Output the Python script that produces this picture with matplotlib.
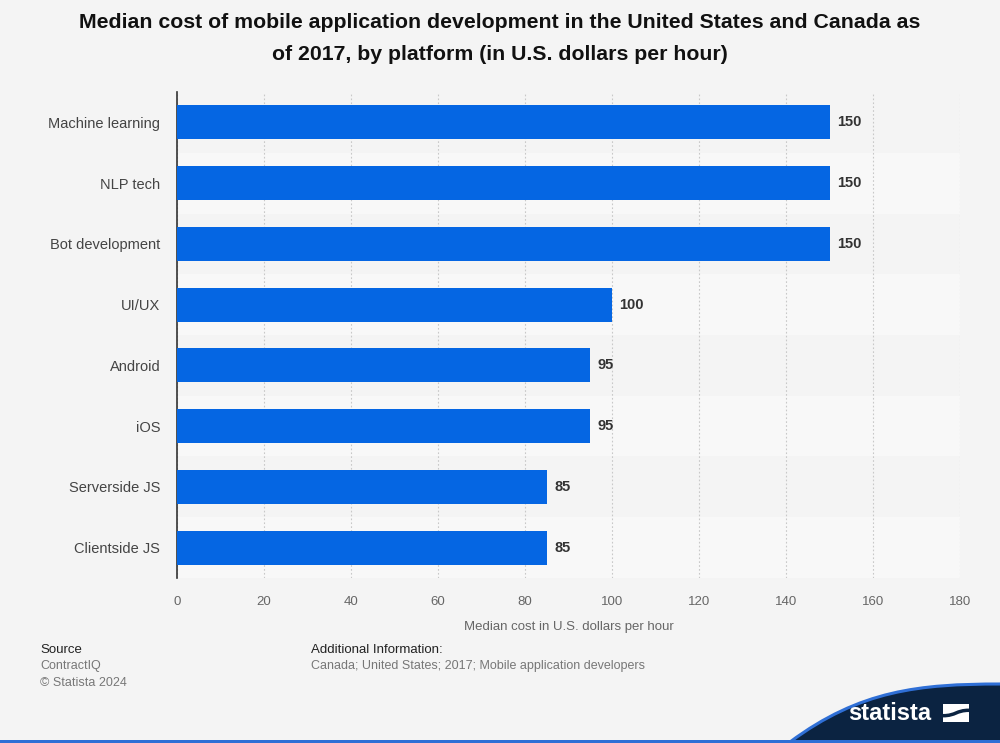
import numpy as np
import matplotlib.pyplot as plt
from matplotlib.patches import Rectangle
from matplotlib.path import Path
from matplotlib.patches import PathPatch

categories = ['Machine learning', 'NLP tech', 'Bot development', 'UI/UX',
              'Android', 'iOS', 'Serverside JS', 'Clientside JS']
values = [150, 150, 150, 100, 95, 95, 85, 85]
xticks = [0, 20, 40, 60, 80, 100, 120, 140, 160, 180]

plt.rcParams['font.family'] = ['Liberation Sans', 'DejaVu Sans']

bg = '#f4f4f4'
blue = '#0566e3'

fig = plt.figure(figsize=(10, 7.43), dpi=100, facecolor=bg)
ax = fig.add_axes([0.177, 0.2221, 0.783, 0.654])
ax.set_facecolor(bg)

n = len(categories)
ypos = np.arange(n)[::-1]

# alternating row bands (very subtle)
for i, y in enumerate(ypos):
    col = '#f4f4f4' if i % 2 == 0 else '#f8f8f8'
    ax.axhspan(y - 0.5, y + 0.5, color=col, zorder=0, lw=0)

ax.barh(ypos, values, height=0.56, color=blue, zorder=3)
for y, v in zip(ypos, values):
    ax.text(v + 1.7, y, str(v), va='center', ha='left', fontsize=10.5,
            fontweight='bold', color='#333333', zorder=4)

ax.set_xlim(0, 180)
ax.set_ylim(-0.5, n - 0.5)
ax.set_xticks(xticks)
ax.set_xticklabels([str(t) for t in xticks])
ax.set_yticks(ypos)
ax.set_yticklabels(categories)
ax.tick_params(axis='x', length=0, pad=13, labelsize=9.5, colors='#666666')
ax.tick_params(axis='y', length=0, pad=12, labelsize=10.5, colors='#444444')
ax.xaxis.grid(True, linestyle=(0, (1.5, 2)), color='#c8c8c8', lw=0.8, zorder=1)
ax.set_axisbelow(True)
for s in ['top', 'right', 'bottom']:
    ax.spines[s].set_visible(False)
ax.spines['left'].set_color('#333333')
ax.spines['left'].set_linewidth(1.2)
ax.set_xlabel('Median cost in U.S. dollars per hour', fontsize=9.5,
              color='#666666', labelpad=9)

fig.text(0.5, 1 - 22 / 743, 'Median cost of mobile application development in the United States and Canada as',
         ha='center', va='center', fontsize=15.3, fontweight='bold', color='#111111')
fig.text(0.5, 1 - 54 / 743, 'of 2017, by platform (in U.S. dollars per hour)',
         ha='center', va='center', fontsize=15.3, fontweight='bold', color='#111111')

# footer
fig.text(0.040, 1 - 650 / 743, 'Source', fontsize=9.5, color='#222222', va='center')
fig.text(0.040, 1 - 666 / 743, 'ContractIQ', fontsize=9, color='#777777', va='center')
fig.text(0.040, 1 - 683 / 743, '\u00a9 Statista 2024', fontsize=9, color='#777777', va='center')
fig.text(0.311, 1 - 650 / 743, 'Additional Information:', fontsize=9.5, color='#222222', va='center')
fig.text(0.311, 1 - 666 / 743, 'Canada; United States; 2017; Mobile application developers',
         fontsize=9, color='#777777', va='center')

# logo area
H = 743.0
def fy(p):
    return 1 - p / H
verts = [(0.79, fy(743)), (0.79, fy(742)),
         (0.86, fy(690)), (0.92, fy(684)), (1.0, fy(684)),
         (1.0, fy(743)), (0.79, fy(743))]
codes = [Path.MOVETO, Path.LINETO, Path.CURVE4, Path.CURVE4, Path.CURVE4,
         Path.LINETO, Path.CLOSEPOLY]
fig.patches.append(PathPatch(Path(verts, codes), transform=fig.transFigure,
                             facecolor='#0b2341', edgecolor='none'))
edge = [(0.79, fy(742)), (0.86, fy(690)), (0.92, fy(684)), (1.0, fy(684))]
fig.patches.append(PathPatch(Path(edge, [Path.MOVETO, Path.CURVE4, Path.CURVE4, Path.CURVE4]),
                             transform=fig.transFigure, facecolor='none',
                             edgecolor='#2f6fd6', lw=2.2))
fig.patches.append(Rectangle((0, 0), 1, 3 / H, transform=fig.transFigure,
                             facecolor='#2f6fd6', edgecolor='none'))
fig.text(0.890, fy(713), 'statista', color='white', fontsize=17, fontweight='bold',
         ha='center', va='center')
# icon: white square with a dark s-curve through it
x0, y0, w, h = 0.943, fy(722), 0.026, 18 / H
fig.patches.append(Rectangle((x0, y0), w, h, transform=fig.transFigure,
                             facecolor='white', edgecolor='none'))
sv = [(x0, y0 + 0.35 * h), (x0 + 0.5 * w, y0 + 0.35 * h), (x0 + 0.5 * w, y0 + 0.65 * h),
      (x0 + w, y0 + 0.65 * h)]
fig.patches.append(PathPatch(Path(sv, [Path.MOVETO, Path.CURVE4, Path.CURVE4, Path.CURVE4]),
                             transform=fig.transFigure, facecolor='none',
                             edgecolor='#0b2341', lw=2.5))

fig.savefig('out.png', dpi=100, facecolor=bg)
